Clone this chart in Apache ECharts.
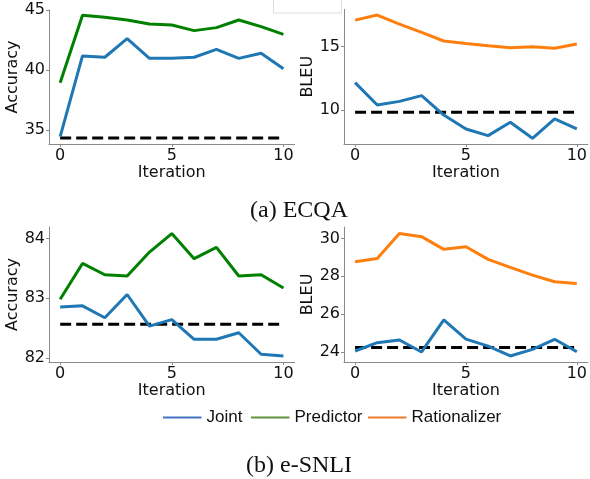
<!DOCTYPE html>
<html><head><meta charset="utf-8">
<script src="https://cdn.jsdelivr.net/npm/echarts@6/dist/echarts.min.js"></script>
<style>html,body{margin:0;padding:0;background:#fff}#c{width:590px;height:479px}</style>
</head><body><div id="c"></div>
<script>
const iterations = [0,1,2,3,4,5,6,7,8,9,10];
// (a) ECQA - Accuracy
const ecqaAccJoint = [34.44,41.17,41.06,42.61,40.97,40.97,41.06,41.72,40.97,41.39,40.11];
const ecqaAccPredictor = [38.94,44.56,44.39,44.17,43.83,43.75,43.28,43.53,44.17,43.61,42.97];
const ecqaAccBaseline = 34.33;
// (a) ECQA - BLEU
const ecqaBleuJoint = [12.16,10.39,10.68,11.13,9.60,8.50,7.97,9.03,7.76,9.29,8.50];
const ecqaBleuRationalizer = [17.10,17.50,16.79,16.13,15.45,15.26,15.08,14.92,15.00,14.87,15.21];
const ecqaBleuBaseline = 9.82;
// (b) e-SNLI - Accuracy
const esnliAccJoint = [82.85,82.87,82.67,83.06,82.53,82.64,82.31,82.31,82.42,82.06,82.03];
const esnliAccPredictor = [82.98,83.58,83.39,83.37,83.77,84.08,83.66,83.85,83.37,83.39,83.17];
const esnliAccBaseline = 82.56;
// (b) e-SNLI - BLEU
const esnliBleuJoint = [24.05,24.49,24.63,24.00,25.69,24.68,24.31,23.79,24.14,24.67,24.01];
const esnliBleuRationalizer = [28.77,28.94,30.26,30.09,29.42,29.56,28.89,28.47,28.06,27.71,27.61];
const esnliBleuBaseline = 24.24;
// tick labels
const xTicks = [0,5,10];
const ticksTL = [35,40,45];
const ticksTR = [10,15];
const ticksBL = [82,83,84];
const ticksBR = [24,26,28,30];
const legendNames = ['Joint','Predictor','Rationalizer'];
const captions = ['(a) ECQA','(b) e-SNLI'];

const C = {joint:'#1f77b4', pred:'#008000', rat:'#ff7f0e'};
const axisCol = '#8a8a8a';
const txt = {fontFamily:'DejaVu Sans', fontSize:16, color:'#111'};

const grids = [
  {left:49, top:10, width:245.6, height:134},
  {left:344, top:9.5, width:245.6, height:134.5},
  {left:49, top:227, width:245.6, height:135},
  {left:344, top:227, width:245.6, height:135}
];
const yCfg = [
  {min:33.83, max:45.0, ticks:ticksTL, name:'Accuracy'},
  {min:7.31, max:17.94, ticks:ticksTR, name:'BLEU'},
  {min:81.93, max:84.19, ticks:ticksBL, name:'Accuracy'},
  {min:23.47, max:30.6, ticks:ticksBR, name:'BLEU'}
];
const xAxes = grids.map((g,i)=>({
  type:'value', gridIndex:i, min:-0.5, max:10.5,
  name:'Iteration', nameLocation:'middle', nameGap:21,
  nameTextStyle:{...txt},
  axisLine:{show:true, onZero:false, lineStyle:{color:axisCol, width:1}},
  axisTick:{show:true, length:3, customValues:xTicks, lineStyle:{color:axisCol}},
  axisLabel:{...txt, margin:4, customValues:xTicks},
  splitLine:{show:false}
}));
const yAxes = yCfg.map((c,i)=>({
  type:'value', gridIndex:i, min:c.min, max:c.max,
  name:c.name, nameLocation:'middle', nameGap:c.name==='BLEU'?16:26, nameRotate:90,
  nameTextStyle:{...txt},
  axisLine:{show:true, onZero:false, lineStyle:{color:axisCol, width:1}},
  axisTick:{show:true, length:3, customValues:c.ticks, lineStyle:{color:axisCol}},
  axisLabel:{...txt, margin:4, customValues:c.ticks},
  splitLine:{show:false}
}));
function line(name, data, idx, color){
  return {type:'line', name:name, xAxisIndex:idx, yAxisIndex:idx, symbol:'none',
    data: iterations.map((x,k)=>[x,data[k]]),
    lineStyle:{color:color, width:3}, itemStyle:{color:color}, z:3};
}
function base(v, idx){
  return {type:'line', name:'baseline', xAxisIndex:idx, yAxisIndex:idx, symbol:'none',
    data: iterations.map(x=>[x,v]),
    lineStyle:{color:'#000', width:3, type:[11,5]}, z:2};
}
// legend swatches (empty series, styled as in the reference legend)
const legendCols = ['#4472c4','#5e9440','#ed7d31'];
const legendSeries = legendNames.map((n,i)=>({
  type:'line', name:n, xAxisIndex:0, yAxisIndex:0, symbol:'none', data:[],
  lineStyle:{color:legendCols[i], width:2}, itemStyle:{color:legendCols[i]}
}));
const series = legendSeries.concat([
  base(ecqaAccBaseline,0), line('Joint',ecqaAccJoint,0,C.joint), line('Predictor',ecqaAccPredictor,0,C.pred),
  base(ecqaBleuBaseline,1), line('Joint',ecqaBleuJoint,1,C.joint), line('Rationalizer',ecqaBleuRationalizer,1,C.rat),
  base(esnliAccBaseline,2), line('Joint',esnliAccJoint,2,C.joint), line('Predictor',esnliAccPredictor,2,C.pred),
  base(esnliBleuBaseline,3), line('Joint',esnliBleuJoint,3,C.joint), line('Rationalizer',esnliBleuRationalizer,3,C.rat)
]);
const legendLeft = [162, 250, 367];
const legends = legendNames.map((n,i)=>({
  left:legendLeft[i], top:409, itemWidth:38.5, itemHeight:14, padding:0,
  itemStyle:{opacity:0},
  textStyle:{fontFamily:'Liberation Sans', fontSize:17, color:'#111'},
  selectedMode:false,
  data:[n]
}));
const chart = echarts.init(document.getElementById('c'), null, {renderer:'canvas'});
chart.setOption({
  animation:false,
  backgroundColor:'#fff',
  grid: grids,
  xAxis: xAxes,
  yAxis: yAxes,
  legend: legends,
  graphic:[
    {type:'text', left:250, top:199, style:{text:captions[0], font:'24px "Liberation Serif"', fill:'#111'}},
    {type:'text', left:246, top:454, style:{text:captions[1], font:'24px "Liberation Serif"', fill:'#111'}},
    {type:'rect', shape:{x:273.5, y:-5, width:68, height:18}, style:{fill:'none', stroke:'#dddddd', lineWidth:1}}
  ],
  series: series
});
</script></body></html>
